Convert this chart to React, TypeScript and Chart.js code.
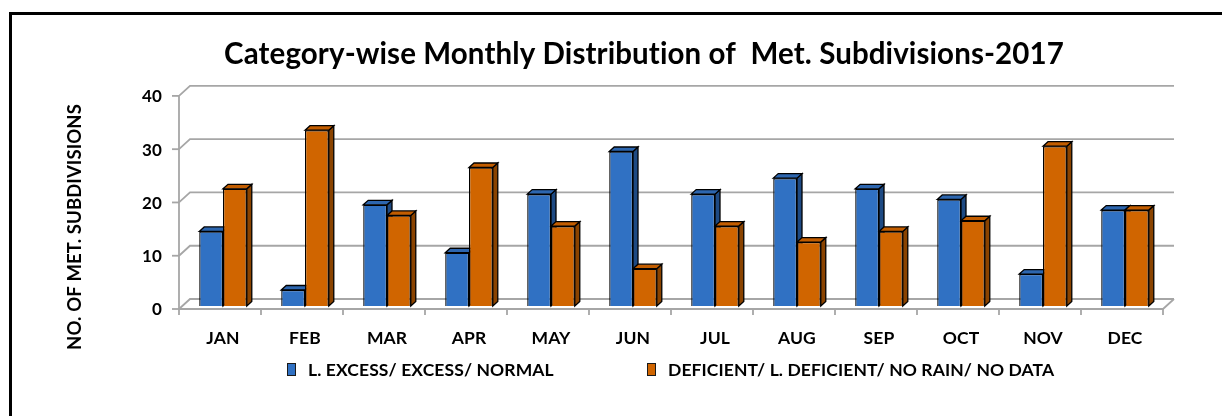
import React, { useEffect, useRef } from "react";
import { Chart, registerables } from "chart.js";

Chart.register(...registerables);

// ---- data ----
const months = ["JAN", "FEB", "MAR", "APR", "MAY", "JUN", "JUL", "AUG", "SEP", "OCT", "NOV", "DEC"];
const excessNormal = [14, 3, 19, 10, 21, 29, 21, 24, 22, 20, 6, 18];
const deficientNoData = [22, 33, 17, 26, 15, 7, 15, 12, 14, 16, 30, 18];
const yTickValues = [0, 10, 20, 30, 40];
const seriesNames = ["L. EXCESS/ EXCESS/ NORMAL", "DEFICIENT/ L. DEFICIENT/ NO RAIN/ NO DATA"];
const chartTitle = "Category-wise Monthly Distribution of  Met. Subdivisions-2017";
const yAxisTitle = "NO. OF MET. SUBDIVISIONS";

// ---- styles ----
const FONT = "Lato, 'Open Sans', sans-serif";
const faceColors = [
  { front: "#3071C3", top: "#2D66AF", side: "#1E4A83" },
  { front: "#D06500", top: "#C25D00", side: "#8A4300" },
];
const GRID = "#a6a6a6";
const FRONT = { dx: -3, dy: 3 };
const BACK = { dx: 8, dy: -7 };
const DEPTH = { dx: 5, dy: -4.5 };

const threeD = {
  id: "threeD",
  beforeDraw(chart: any) {
    // avoid optional ligatures (e.g. "ti") in canvas text
    try {
      (chart.ctx as any).letterSpacing = "0.1px";
    } catch (e) {}
  },
  beforeDatasetsDraw(chart: any) {
    const { ctx, chartArea: ca, scales } = chart;
    const x = scales.x;
    const y = scales.y;
    ctx.save();
    ctx.strokeStyle = GRID;
    ctx.lineWidth = 1.8;
    ctx.lineCap = "butt";
    yTickValues.forEach((v) => {
      const py = y.getPixelForValue(v);
      ctx.beginPath();
      ctx.moveTo(ca.left + FRONT.dx, py + FRONT.dy);
      ctx.lineTo(ca.left + BACK.dx, py + BACK.dy);
      ctx.lineTo(ca.right + BACK.dx, py + BACK.dy);
      ctx.stroke();
      ctx.beginPath();
      ctx.moveTo(ca.left + FRONT.dx - 7, py + FRONT.dy);
      ctx.lineTo(ca.left + FRONT.dx, py + FRONT.dy);
      ctx.stroke();
    });
    const y0 = y.getPixelForValue(0);
    const yTop = y.getPixelForValue(40);
    ctx.beginPath();
    ctx.moveTo(ca.left + FRONT.dx, yTop + FRONT.dy);
    ctx.lineTo(ca.left + FRONT.dx, y0 + FRONT.dy);
    ctx.stroke();
    ctx.beginPath();
    ctx.moveTo(ca.left + FRONT.dx, y0 + FRONT.dy);
    ctx.lineTo(ca.right + FRONT.dx, y0 + FRONT.dy);
    ctx.lineTo(ca.right + BACK.dx, y0 + BACK.dy);
    ctx.stroke();
    const n = months.length;
    const cw = (x.right - x.left) / n;
    for (let i = 0; i <= n; i++) {
      const px = x.left + i * cw + FRONT.dx;
      ctx.beginPath();
      ctx.moveTo(px, y0 + FRONT.dy);
      ctx.lineTo(px, y0 + FRONT.dy + 6);
      ctx.stroke();
    }
    ctx.strokeStyle = "#000";
    ctx.lineWidth = 1.3;
    ctx.lineJoin = "miter";
    for (let i = 0; i < n; i++) {
      chart.data.datasets.forEach((_: any, d: number) => {
        const meta = chart.getDatasetMeta(d);
        const bar = meta.data[i];
        if (!bar) return;
        const p = bar.getProps(["x", "y", "base", "width"], true);
        const l = p.x - p.width / 2;
        const r = p.x + p.width / 2;
        ctx.beginPath();
        ctx.moveTo(r, p.y);
        ctx.lineTo(r + DEPTH.dx, p.y + DEPTH.dy);
        ctx.lineTo(r + DEPTH.dx, p.base + DEPTH.dy);
        ctx.lineTo(r, p.base);
        ctx.closePath();
        ctx.fillStyle = faceColors[d].side;
        ctx.fill();
        ctx.stroke();
        ctx.beginPath();
        ctx.moveTo(l, p.y);
        ctx.lineTo(l + DEPTH.dx, p.y + DEPTH.dy);
        ctx.lineTo(r + DEPTH.dx, p.y + DEPTH.dy);
        ctx.lineTo(r, p.y);
        ctx.closePath();
        ctx.fillStyle = faceColors[d].top;
        ctx.fill();
        ctx.stroke();
      });
    }
    ctx.restore();
  },
  afterDraw(chart: any) {
    const { ctx } = chart;
    ctx.save();
    ctx.translate(75, 227);
    ctx.rotate(-Math.PI / 2);
    ctx.font = `bold 18.5px ${FONT}`;
    ctx.fillStyle = "#000";
    ctx.textAlign = "center";
    ctx.textBaseline = "middle";
    ctx.fillText(yAxisTitle, 0, 0);
    ctx.restore();
    ctx.save();
    ctx.font = `bold 17.5px ${FONT}`;
    ctx.textBaseline = "middle";
    ctx.textAlign = "left";
    const boxStarts = [287, 647];
    const ly = 369;
    chart.data.datasets.forEach((ds: any, d: number) => {
      const bx = boxStarts[d];
      ctx.fillStyle = faceColors[d].front;
      ctx.fillRect(bx, ly - 6, 8, 12);
      ctx.strokeStyle = "#1a1a1a";
      ctx.lineWidth = 1;
      ctx.strokeRect(bx + 0.5, ly - 5.5, 8, 12);
      ctx.fillStyle = "#000";
      ctx.fillText(ds.label, bx + 21, ly + 1);
    });
    ctx.restore();
  },
};

export default function App() {
  const ref = useRef<HTMLCanvasElement | null>(null);
  useEffect(() => {
    if (!ref.current) return;
    const chart = new Chart(ref.current, {
      type: "bar",
      data: {
        labels: months,
        datasets: [
          {
            label: seriesNames[0],
            data: excessNormal,
            backgroundColor: faceColors[0].front,
            borderColor: "#000",
            borderWidth: 1.3,
            categoryPercentage: 0.58,
            barPercentage: 1,
          },
          {
            label: seriesNames[1],
            data: deficientNoData,
            backgroundColor: faceColors[1].front,
            borderColor: "#000",
            borderWidth: 1.3,
            categoryPercentage: 0.58,
            barPercentage: 1,
          },
        ],
      },
      options: {
        responsive: false,
        animation: false,
        layout: { padding: { left: 122, right: 56, top: 0, bottom: 60 } },
        plugins: {
          legend: { display: false },
          tooltip: { enabled: false },
          title: {
            display: true,
            text: chartTitle,
            color: "#000",
            font: { family: FONT, size: 29.5, weight: "bold" },
            padding: { top: 37, bottom: 20.5 },
          },
        },
        scales: {
          x: {
            grid: { display: false, drawTicks: false },
            border: { display: false },
            ticks: { color: "#000", font: { family: FONT, size: 17.5, weight: "bold" }, padding: 22, maxRotation: 0 },
            afterFit: (s: any) => {
              s.height = 50;
            },
          },
          y: {
            min: 0,
            max: 40,
            grid: { display: false, drawTicks: false },
            border: { display: false },
            ticks: {
              stepSize: 10,
              color: "#000",
              font: { family: FONT, size: 17, weight: "bold" },
              padding: 20,
              labelOffset: 4,
            },
            afterFit: (s: any) => {
              s.width = 60;
            },
          },
        },
      },
      plugins: [threeD],
    });
    return () => chart.destroy();
  }, []);
  return (
    <div style={{ position: "fixed", left: 0, top: 0, width: 1222, height: 416, overflow: "hidden", background: "#fff" }}>
      <div
        style={{
          position: "absolute",
          left: 9,
          top: 12,
          width: 1240,
          height: 440,
          border: "3px solid #000",
          boxSizing: "border-box",
        }}
      />
      <canvas ref={ref} width={1222} height={416} style={{ position: "absolute", left: 0, top: 0 }} />
    </div>
  );
}
